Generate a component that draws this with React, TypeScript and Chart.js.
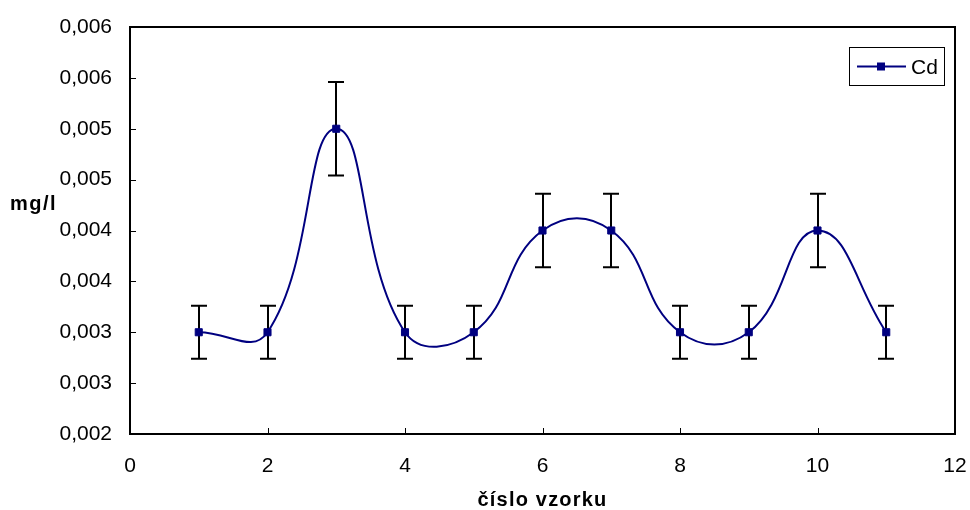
import React, { useEffect, useRef } from 'react';
import { Chart, registerables } from 'chart.js';

Chart.register(...registerables);

const xValues = [1, 2, 3, 4, 5, 6, 7, 8, 9, 10, 11];
const yValues = [0.003, 0.003, 0.005, 0.003, 0.003, 0.004, 0.004, 0.003, 0.003, 0.004, 0.003];
const yErrors = [0.00026, 0.00026, 0.00046, 0.00026, 0.00026, 0.00036, 0.00036, 0.00026, 0.00026, 0.00036, 0.00026];
const yTickValues = [0.002, 0.0025, 0.003, 0.0035, 0.004, 0.0045, 0.005, 0.0055, 0.006];
const yTickLabels = ['0,002', '0,003', '0,003', '0,004', '0,004', '0,005', '0,005', '0,006', '0,006'];
const xTickValues = [0, 2, 4, 6, 8, 10, 12];
const seriesName = 'Cd';
const yTitle = 'mg/l';
const xTitle = 'číslo vzorku';

const NAVY = '#000080';
const FONT = '"Liberation Sans", Arial, sans-serif';

const decor = {
  id: 'decor',
  beforeDatasetsDraw(chart: any) {
    const { ctx, scales } = chart;
    const x = scales.x, y = scales.y;
    ctx.save();
    ctx.strokeStyle = '#000';
    ctx.lineWidth = 2;
    xValues.forEach((xv, i) => {
      const px = Math.round(x.getPixelForValue(xv));
      const top = y.getPixelForValue(yValues[i] + yErrors[i]);
      const bot = y.getPixelForValue(yValues[i] - yErrors[i]);
      ctx.beginPath();
      ctx.moveTo(px, top);
      ctx.lineTo(px, bot);
      ctx.moveTo(px - 8, top);
      ctx.lineTo(px + 8, top);
      ctx.moveTo(px - 8, bot);
      ctx.lineTo(px + 8, bot);
      ctx.stroke();
    });
    ctx.restore();
  },
  afterDraw(chart: any) {
    const { ctx, chartArea, scales } = chart;
    const x = scales.x, y = scales.y;
    const { left, right, top, bottom } = chartArea;
    ctx.save();
    // tick marks
    ctx.strokeStyle = '#000';
    ctx.lineWidth = 1;
    ctx.beginPath();
    yTickValues.forEach((v) => {
      const py = Math.round(y.getPixelForValue(v)) + 0.5;
      ctx.moveTo(left, py);
      ctx.lineTo(left + 6, py);
    });
    xTickValues.forEach((v) => {
      const px = Math.round(x.getPixelForValue(v)) + 0.5;
      ctx.moveTo(px, bottom);
      ctx.lineTo(px, bottom - 6);
    });
    ctx.stroke();
    // plot box
    ctx.lineWidth = 2;
    ctx.strokeRect(left, top, right - left, bottom - top);
    // axis titles
    ctx.fillStyle = '#000';
    ctx.font = 'bold 20px ' + FONT;
    (ctx as any).letterSpacing = '1.5px';
    ctx.textBaseline = 'alphabetic';
    ctx.textAlign = 'left';
    ctx.fillText(yTitle, 10, 210);
    (ctx as any).letterSpacing = '1.2px';
    ctx.textAlign = 'center';
    ctx.fillText(xTitle, (left + right) / 2, 506);
    (ctx as any).letterSpacing = '0px';
    // legend
    ctx.lineWidth = 1;
    ctx.strokeStyle = '#000';
    ctx.strokeRect(849.5, 47.5, 95, 38);
    ctx.strokeStyle = NAVY;
    ctx.lineWidth = 2;
    ctx.beginPath();
    ctx.moveTo(857, 66.5);
    ctx.lineTo(906, 66.5);
    ctx.stroke();
    ctx.fillStyle = NAVY;
    ctx.fillRect(877, 62.5, 8, 8);
    ctx.fillStyle = '#000';
    ctx.font = '21px ' + FONT;
    ctx.textAlign = 'left';
    ctx.fillText(seriesName, 911, 74);
    ctx.restore();
  },
};

export default function App() {
  const ref = useRef<HTMLCanvasElement | null>(null);
  useEffect(() => {
    if (!ref.current) return;
    const chart = new Chart(ref.current, {
      type: 'line',
      data: {
        datasets: [
          {
            label: seriesName,
            data: xValues.map((xv, i) => ({ x: xv, y: yValues[i] })),
            borderColor: NAVY,
            backgroundColor: NAVY,
            borderWidth: 2,
            pointStyle: 'rect',
            pointRadius: 5,
            pointBorderWidth: 1,
            pointBackgroundColor: NAVY,
            pointBorderColor: NAVY,
            tension: 0.45,
          },
        ],
      },
      options: {
        animation: false,
        responsive: false,
        maintainAspectRatio: false,
        layout: { padding: { top: 27, right: 15, left: 0, bottom: 0 } },
        plugins: { legend: { display: false }, tooltip: { enabled: false } },
        scales: {
          x: {
            type: 'linear',
            min: 0,
            max: 12,
            grid: { display: false, drawTicks: false },
            border: { display: false },
            afterFit: (s: any) => { s.height = 76; s.paddingLeft = 0; s.paddingRight = 0; },
            afterBuildTicks: (s: any) => { s.ticks = xTickValues.map((v) => ({ value: v })); },
            ticks: {
              padding: 20,
              color: '#000',
              font: { family: FONT, size: 21 },
              callback: (v: any) => String(v),
            },
          },
          y: {
            type: 'linear',
            min: 0.002,
            max: 0.006,
            grid: { display: false, drawTicks: false },
            border: { display: false },
            afterFit: (s: any) => { s.width = 130; s.paddingTop = 0; s.paddingBottom = 0; },
            afterBuildTicks: (s: any) => { s.ticks = yTickValues.map((v) => ({ value: v })); },
            ticks: {
              padding: 18,
              color: '#000',
              font: { family: FONT, size: 21 },
              callback: (_v: any, i: number) => yTickLabels[i],
            },
          },
        },
      },
      plugins: [decor],
    });
    return () => chart.destroy();
  }, []);
  return (
    <div style={{ position: 'fixed', left: 0, top: 0, width: 970, height: 510, background: '#fff' }}>
      <canvas ref={ref} width={970} height={510} style={{ width: 970, height: 510, display: 'block' }} />
    </div>
  );
}
